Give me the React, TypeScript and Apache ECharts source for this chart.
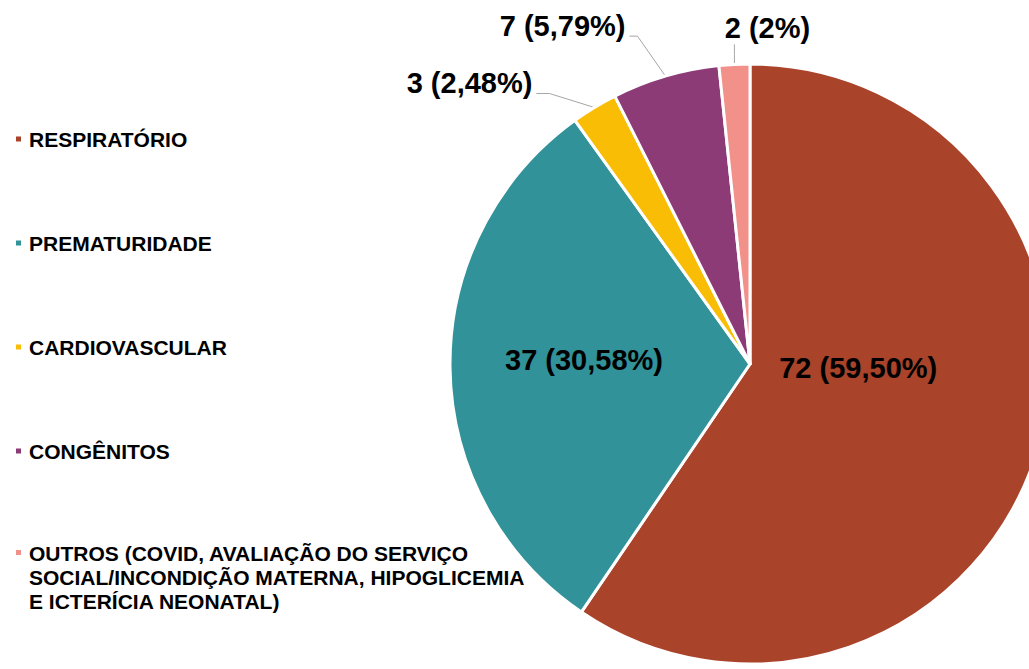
import React, { useEffect, useRef } from "react";
import * as echarts from "echarts";

const categories = [
  "RESPIRATÓRIO",
  "PREMATURIDADE",
  "CARDIOVASCULAR",
  "CONGÊNITOS",
  "OUTROS (COVID, AVALIAÇÃO DO SERVIÇO\nSOCIAL/INCONDIÇÃO MATERNA, HIPOGLICEMIA\nE ICTERÍCIA NEONATAL)",
];
const values = [72, 37, 3, 7, 2];
const percentLabels = ["59,50%", "30,58%", "2,48%", "5,79%", "2%"];
const colors = ["#A9432A", "#319299", "#F8BD04", "#8C3B77", "#F2908A"];

export default function App() {
  const ref = useRef<HTMLDivElement>(null);
  useEffect(() => {
    if (!ref.current) return;
    const chart = echarts.init(ref.current, null, { renderer: "svg" });
    const font = '"Liberation Sans", Arial, sans-serif';
    const data = categories.map((name, i) => {
      const inside = i < 2;
      return {
        name,
        value: values[i],
        itemStyle: { color: colors[i] },
        label: { position: inside ? "inside" : "outside", fontSize: 29, fontFamily: font, fontWeight: "bold", color: "#000" },
        labelLine: { show: !inside, length: 20, length2: 10, lineStyle: { color: "#A6A6A6", width: 1 } },
      };
    });
    const legendText = {
      fontFamily: font,
      fontWeight: "bold",
      fontSize: 21,
      lineHeight: 24,
      color: "#000",
      padding: [0, 0, 0, 2],
    };
    chart.setOption({
      animation: false,
      backgroundColor: "#fff",
      legend: [
        {
          orient: "vertical",
          left: 14,
          top: 127,
          height: 700,
          padding: 0,
          itemWidth: 7,
          itemHeight: 7,
          itemGap: 80,
          icon: "rect",
          selectedMode: false,
          textStyle: legendText,
          data: categories.slice(0, 4),
        },
        {
          orient: "vertical",
          left: 14,
          top: 541,
          height: 200,
          padding: 0,
          itemWidth: 7,
          itemHeight: 56,
          icon: "path://M0,0h7v7h-7z M0,55.9h0.05v0.05h-0.05z",
          selectedMode: false,
          textStyle: legendText,
          data: categories.slice(4),
        },
      ],
      series: [
        {
          type: "pie",
          center: [750, 364],
          radius: 300,
          startAngle: 90,
          clockwise: true,
          avoidLabelOverlap: false,
          itemStyle: { borderColor: "#fff", borderWidth: 3 },
          label: {
            formatter: (p: any) => `${p.value} (${percentLabels[p.dataIndex]})`,
          },
          labelLayout: (p: any) => {
            const i = p.dataIndex;
            if (i === 0) return { dx: -38, dy: -41 };
            if (i === 1) return { dx: -13, dy: -6 };
            const pts = p.labelLinePoints;
            if (!pts || !pts[0]) return {};
            const sx = pts[0][0];
            const sy = pts[0][1];
            if (i === 2) {
              const bx = sx - 45, by = sy - 14, ex = sx - 58;
              return {
                x: ex - 4, y: by + 4, align: "right", verticalAlign: "bottom",
                labelLinePoints: [[sx, sy], [bx, by], [ex, by]],
              };
            }
            if (i === 3) {
              const bx = sx - 28, by = sy - 40, ex = sx - 36;
              return {
                x: ex - 4, y: by + 4, align: "right", verticalAlign: "bottom",
                labelLinePoints: [[sx, sy], [bx, by], [ex, by]],
              };
            }
            const ey = sy - 20;
            return {
              x: sx + 33, y: ey - 2, align: "center", verticalAlign: "bottom",
              labelLinePoints: [[sx, sy], [sx, (sy + ey) / 2], [sx, ey]],
            };
          },
          data,
        },
      ],
    });
    return () => chart.dispose();
  }, []);
  return (
    <div
      ref={ref}
      style={{ position: "absolute", left: 0, top: 0, width: 1029, height: 669 }}
    />
  );
}
